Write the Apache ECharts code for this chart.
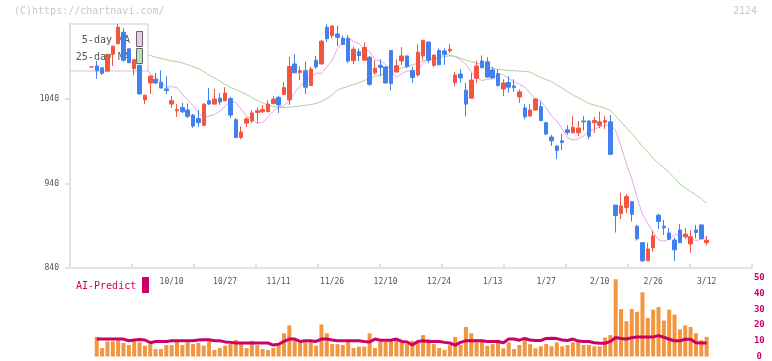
<!DOCTYPE html>
<html><head><meta charset="utf-8">
<script src="https://cdn.jsdelivr.net/npm/echarts@6/dist/echarts.min.js"></script>
<style>html,body{margin:0;padding:0;background:#fff}#c{width:772px;height:361px}</style>
</head><body><div id="c"></div>
<script>
const dateLabels = ['10/10','10/27','11/11','11/26','12/10','12/24','1/13','1/27','2/10','2/26','3/12'];
const dateLabelIndex = [15,25,35,45,55,65,75,85,95,105,115];
const priceTicks = [840, 940, 1040];
const volTicks = [0, 10, 20, 30, 40, 50];

const open = [1078,1079,1077,1073,1093,1105.5,1119,1099.5,1076,1080,1039,1059,1063.5,1060,1052,1034,1026,1030,1027,1021,1017,1009,1038,1034,1041,1038,1040.5,1015.5,994.5,1011.5,1014,1024,1025,1025,1034.5,1042,1045.5,1039,1081.5,1071.5,1073.5,1056,1086,1081.5,1125,1115,1117,1112,1112,1085.5,1096,1086,1089.5,1071,1080,1078,1097.5,1072,1085,1091,1073.5,1068.5,1091,1107.5,1080,1097.5,1097,1097,1059.5,1069.5,1050.5,1041,1064.5,1085,1084,1074.5,1070,1052,1059.5,1055.5,1042.5,1029.5,1020,1027,1031,1012,995,984.5,990.5,1003.5,1000,1000,1014,1014,1012,1009,1012.5,1013,914.5,904.5,911.5,918.5,889.5,870,848.5,864,902.5,889.5,881.5,873,885,877,868.5,885,891,870];
const close = [1078,1073.5,1070.5,1093,1102.5,1125,1086,1083,1086.5,1046,1044.5,1067,1059,1053,1050,1038,1027.5,1025,1019.5,1008,1012,1034,1034,1040,1036.5,1047,1021,994.5,1001,1016.5,1023.5,1026,1027.5,1034,1040,1033,1053.5,1078.5,1071,1073.5,1054,1075.5,1078,1108.5,1111.5,1126.5,1113,1104.5,1085,1099,1091.5,1101,1057.5,1076.5,1077.5,1059,1058.5,1079.5,1091,1078.5,1065.5,1095.5,1109.5,1086,1092,1080.5,1093,1099,1068.5,1065,1034,1062.5,1079,1077,1066,1065,1056,1059,1054,1053.5,1048.5,1019,1027,1040,1014.5,998.5,990.5,979,988.5,1000.5,1006.5,1005.5,1013,996,1014.5,1013,1014.5,974.5,902,913.5,924.5,903.5,874.5,848.5,862.5,878,895,887.5,874,861.5,870,880,877,882,874.5,873];
const low = [1078,1064,1068.5,1073,1079,1105,1084,1082.5,1068,1046,1034,1046,1057.5,1053,1046,1029.5,1019,1023.5,1017.5,1006,1007,1008,1033,1034,1033,1037.5,1017.5,994,992.5,1007,1011.5,1011.5,1023.5,1024.5,1034,1023.5,1044.5,1033,1070.5,1062.5,1046,1055.5,1075.5,1081,1107.5,1112,1102.5,1104,1082.5,1081.5,1085,1085.5,1055.5,1068.5,1067,1058.5,1050,1071.5,1080,1076.5,1059,1066.5,1086,1082.5,1078,1080,1080.5,1094.5,1055,1059,1019.5,1040.5,1059,1076.5,1065.5,1064.5,1054.5,1043.5,1047.5,1048.5,1035.5,1016,1018.5,1026.5,1014,997.5,984.5,969,979.5,997.5,999.5,996,1003,992.5,1000,1005.5,1004.5,974.5,882,898,905,895,872.5,847,848.5,859,886,879,873,848.5,869.5,874.5,858,875,874.5,867];
const high = [1078,1085,1077,1093,1103,1129,1124,1100,1087,1080,1045,1068.5,1071,1074,1067,1043.5,1034,1035.5,1035,1022,1027,1035,1053,1052,1047,1054,1042.5,1017.5,1007.5,1018.5,1027,1030,1033,1038.5,1043.5,1043.5,1060,1090,1093,1078.5,1084.5,1078,1091,1110,1128.5,1127,1127,1115,1115.5,1102,1100,1107,1091,1086,1087,1078.5,1098,1087,1101.5,1091.5,1078,1104.5,1110,1107.5,1092.5,1100,1100,1105,1072,1075.5,1059,1071,1085.5,1091.5,1089.5,1078,1075,1063.5,1067,1063.5,1051.5,1034,1034,1041,1037,1013,997.5,984.5,998.5,1009,1020,1014,1020,1015,1019,1025,1020,1021,914.5,929,927.5,919.5,891,870,870,884,904.5,897,887.5,876,892,887.5,885,891,891,878];

const ma5 = [null,null,null,null,null,1083.5,1092.9,1095.4,1097.9,1096.6,1085.3,1069.2,1065.4,1060.6,1053.9,1054.7,1053.4,1045.5,1038.7,1032,1023.6,1018.4,1019.7,1021.5,1025.6,1031.3,1038.3,1035.7,1027.8,1020,1016,1011.3,1012.3,1018.9,1025.5,1030.2,1032.1,1037.6,1047.8,1055.2,1061.9,1066.1,1070.5,1070.4,1077.9,1085.5,1100,1107.5,1112.8,1108.1,1105.6,1098.6,1096.2,1086.8,1085.1,1080.8,1074.3,1065.8,1070.2,1073.1,1073.3,1074.6,1082,1088,1087,1089.7,1092.7,1092.2,1090.1,1086.6,1081.2,1071.9,1065.8,1061.8,1063.5,1063.7,1069.9,1068.6,1064.6,1060,1057.5,1054.2,1046.8,1040.4,1037.6,1029.8,1019.8,1014.1,1004.5,994.2,991.4,993,996,1002.8,1004.3,1007.1,1008.4,1010.2,1002.5,983.7,963.5,945.8,923.6,903.6,892.9,882.7,873.4,871.7,874.3,879.4,879.2,877.6,874.6,872.5,874.1,876.7];
const ma25 = [null,null,null,null,null,null,null,null,1095.6,1094.4,1093.3,1091.5,1089.7,1087.9,1086.7,1085,1084.4,1082.6,1080.6,1078.5,1076.1,1072.5,1068.4,1064.9,1061.3,1057.2,1053.6,1051.2,1048.3,1045.3,1041.8,1038.2,1035.3,1032.9,1031.1,1030.2,1029.9,1030.2,1031.1,1031.7,1032.5,1033.5,1034.7,1037,1040.6,1044.7,1050.6,1053,1055,1057.2,1059.3,1061.9,1064.3,1066.6,1068.4,1070.8,1073.1,1074.7,1076.7,1078.5,1080.2,1082.6,1085,1086.5,1087.9,1089.1,1090.3,1091.2,1090.5,1088.5,1086.2,1084.4,1082.6,1080.6,1078.5,1076.7,1075.1,1074.3,1073.7,1073.5,1073.1,1072.8,1071.9,1068.4,1065.4,1063.1,1060.5,1056.6,1053,1048.9,1044.7,1041.5,1038.2,1034.7,1032.9,1031.1,1029.3,1026.4,1019.9,1012.8,1006.3,999.2,992.1,983.8,977.3,969.6,963.7,958.9,953,946.5,939.4,934.7,930.5,926.4,922.2,916.3];

const volume = [0,12.5,5.4,9.6,9.6,10.4,8.6,7.3,10,9,6.9,7.9,4.8,4.8,7.3,7.3,9.4,7.3,9,7.9,8.6,6.9,9.6,4.2,5.4,6.9,7.9,10.6,7.9,5.4,10,7.3,4.8,4.2,5.4,7.3,14.8,19.8,11.1,9,9,10,6.9,20.4,14.8,7.9,7.9,7.3,9.4,5.4,6.3,6.3,14.8,5.4,9.4,9.4,10,11.1,9,7.9,10,10,13.6,11.1,7.9,5.4,4.2,7.3,12.5,7.3,18.8,14.8,11.1,10,6.9,7.9,10.6,5.2,9,4.8,7.3,10.4,7.9,5.2,6.5,7.9,6.5,9,6.5,7.3,9,9,7.3,7.3,6.5,6.5,12.1,13.6,49.2,30.2,22.5,30.2,28.4,40.9,24.6,29.8,31.5,22.9,29.8,26.7,17.3,19.8,18.8,14.8,10.4,12.5];
const aiPredict = [null,11.1,11.1,11.1,11.1,11.1,11.1,10,10.5,10.8,10.5,8.8,9.6,9.6,9.6,10,10,10,10,10,10.5,10.7,10.7,10,10,9.3,9,8.6,8.6,8.6,8.6,8.6,8.6,8.6,7.3,7.8,9.6,11.1,11.1,9.6,10,10,9.6,11.1,11.1,10.5,10,10,10,10,10,9.5,9.2,11.1,10.4,10.4,10.4,11.1,9.6,9.2,7.3,9.6,10,9.6,9.6,9.6,9,8.6,7.3,9,10,10,10,10,9.6,9.6,9.6,8.8,11.1,11.1,10.4,11.5,10.5,10.2,10.2,11.5,11.6,11.4,10.5,10.2,11.1,9.8,9.6,9.6,8.8,8.4,8.4,9.6,12.1,11.5,11.1,12,12.5,12.5,12.5,12.5,13.3,12.3,11,10,10,11,11,8.8,8.6,8.6];

const UP = '#f25540', DOWN = '#4280ee';
const FONT = 'DejaVu Sans Mono';
const cats = open.map((_, i) => String(i));
const candleData = open.map((o, i) => [o, close[i], low[i], high[i]]);
const gapless = a => a.map(v => v == null ? '-' : v);

const N = open.length;
const slot = 5.35;
const cLeft = 91.4 - slot / 2;
const cWidth = slot * N;

const chart = echarts.init(document.getElementById('c'), null, {renderer: 'canvas'});
chart.setOption({
  animation: false,
  backgroundColor: '#fff',
  grid: [
    {left: 70, top: 23, width: 682, height: 245},
    {left: cLeft, top: 23, width: cWidth, height: 245},
    {left: cLeft, top: 278, width: cWidth, height: 80.5}
  ],
  xAxis: [
    {gridIndex: 0, type: 'value', min: 0, max: 11, interval: 1,
     axisLine: {lineStyle: {color: '#e2e2e2', width: 2}},
     axisTick: {inside: true, length: 4, lineStyle: {color: '#e2e2e2', width: 2}},
     axisLabel: {show: false}, splitLine: {show: false}},
    {gridIndex: 1, type: 'category', data: cats, boundaryGap: true,
     axisLine: {show: false}, axisTick: {show: false}, splitLine: {show: false},
     axisLabel: {
       interval: (idx) => dateLabelIndex.indexOf(idx) >= 0,
       formatter: (v, idx) => { const k = dateLabelIndex.indexOf(idx); return k >= 0 ? dateLabels[k] : ''; },
       margin: 10, fontFamily: FONT, fontSize: 8, color: '#555'
     }},
    {gridIndex: 2, type: 'category', data: cats, boundaryGap: true, show: false}
  ],
  yAxis: [
    {gridIndex: 0, type: 'value', min: 840, max: 1130,
     axisLine: {show: true, lineStyle: {color: '#e2e2e2', width: 2}},
     axisTick: {show: true, length: 5, customValues: priceTicks, lineStyle: {color: '#e2e2e2', width: 2}},
     axisLabel: {customValues: priceTicks, formatter: v => String(v), margin: 11, fontFamily: FONT, fontSize: 8, color: '#555'},
     splitLine: {show: false}},
    {gridIndex: 1, type: 'value', min: 840, max: 1130, show: false},
    {gridIndex: 2, type: 'value', min: 0, max: 50, interval: 10, position: 'right',
     axisLine: {show: false}, axisTick: {show: false}, splitLine: {show: false},
     axisLabel: {customValues: volTicks, formatter: v => String(v), margin: 50, align: 'center', fontFamily: FONT, fontSize: 9, fontWeight: 'bold', color: '#cc0066'}}
  ],
  graphic: [
    {type: 'text', left: 14, top: 6, z: 5, style: {text: '(C)https://chartnavi.com/', font: '10px "DejaVu Sans Mono"', fill: '#c8c8c8'}},
    {type: 'text', right: 15, top: 6, z: 5, style: {text: '2124', font: '10px "DejaVu Sans Mono"', fill: '#c8c8c8'}},
    {type: 'rect', z: 5, shape: {x: 70, y: 24, width: 78, height: 47}, style: {fill: '#fff', stroke: '#dddddd', lineWidth: 1.5}},
    {type: 'text', z: 6, x: 130, y: 40, style: {text: '5-day MA', font: '10px "DejaVu Sans Mono"', fill: '#555', align: 'right', verticalAlign: 'middle'}},
    {type: 'text', z: 6, x: 130, y: 57, style: {text: '25-day MA', font: '10px "DejaVu Sans Mono"', fill: '#555', align: 'right', verticalAlign: 'middle'}},
    {type: 'rect', z: 6, shape: {x: 136.5, y: 31.5, width: 6, height: 15}, style: {fill: '#f0c4f0', stroke: '#666', lineWidth: 1}},
    {type: 'rect', z: 6, shape: {x: 136.5, y: 48.5, width: 6, height: 15}, style: {fill: '#c0e0b6', stroke: '#666', lineWidth: 1}},
    {type: 'text', z: 6, x: 76, y: 286, style: {text: 'AI-Predict', font: '10px "DejaVu Sans Mono"', fill: '#cc0066', verticalAlign: 'middle'}},
    {type: 'rect', z: 6, shape: {x: 142, y: 277, width: 7, height: 16}, style: {fill: '#cc0066'}}
  ],
  series: [
    {type: 'line', name: '5-day MA', xAxisIndex: 1, yAxisIndex: 1, data: gapless(ma5), z: 1,
     showSymbol: false, symbol: 'none', lineStyle: {color: '#e6a6ea', width: 1}, silent: true},
    {type: 'line', name: '25-day MA', xAxisIndex: 1, yAxisIndex: 1, data: gapless(ma25), z: 1,
     showSymbol: false, symbol: 'none', lineStyle: {color: '#a6d69a', width: 1}, silent: true},
    {type: 'candlestick', xAxisIndex: 1, yAxisIndex: 1, data: candleData, z: 10, barWidth: 4,
     itemStyle: {color: UP, color0: DOWN, borderColor: UP, borderColor0: DOWN, borderWidth: 1}},
    {type: 'bar', xAxisIndex: 2, yAxisIndex: 2, data: volume, barWidth: 4, z: 2,
     itemStyle: {color: '#f2963f'}},
    {type: 'line', xAxisIndex: 2, yAxisIndex: 2, data: gapless(aiPredict), z: 3,
     showSymbol: false, symbol: 'none', lineStyle: {color: '#cc0066', width: 3}}
  ]
});
</script></body></html>
